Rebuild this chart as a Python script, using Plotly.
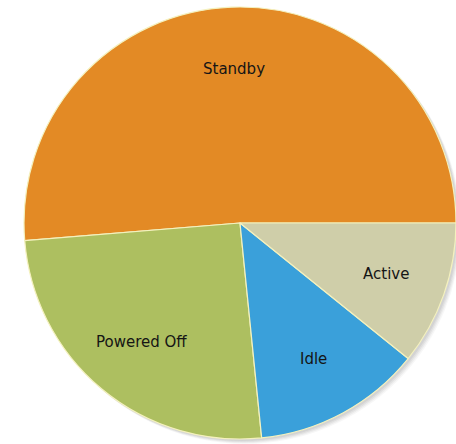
import math
import plotly.graph_objects as go

labels = ["Standby", "Powered Off", "Idle", "Active"]
values = [51.3, 25.3, 12.6, 10.8]
colors = ["#E38A25", "#ADBF60", "#3AA0DA", "#CFCEA9"]

W, H = 456, 444
cx, cy, r = 240, 223, 216
label_r = 0.715

total = sum(values)
# first slice begins at 3 o'clock and runs counterclockwise
rotation = 90 - values[0] / total * 360

fig = go.Figure()

# soft shadow behind the pie
shapes = []
for off, op in [(5, 0.06), (4, 0.08), (3, 0.10), (2, 0.12)]:
    shapes.append(dict(type="circle", xref="paper", yref="paper",
                       x0=(cx - r + off) / W, x1=(cx + r + off) / W,
                       y0=1 - (cy + r + off) / H, y1=1 - (cy - r + off) / H,
                       fillcolor="rgba(120,120,120,%s)" % op, line=dict(width=0), layer="below"))

fig.add_trace(go.Pie(
    labels=labels, values=values, sort=False, direction="counterclockwise", rotation=rotation,
    marker=dict(colors=colors, line=dict(color="#F4F1BE", width=1.2)),
    textinfo="none",
    domain=dict(x=[(cx - r) / W, (cx + r) / W], y=[1 - (cy + r) / H, 1 - (cy - r) / H]),
    showlegend=False, hoverinfo="label+percent",
))

# labels at the middle angle of each slice
annotations = []
start = 0.0
for lab, v in zip(labels, values):
    sweep = v / total * 360
    mid = math.radians(start + sweep / 2)
    px = cx + label_r * r * math.cos(mid)
    py = cy - label_r * r * math.sin(mid)
    annotations.append(dict(text=lab, x=px / W, y=1 - py / H, xref="paper", yref="paper",
                            showarrow=False, xanchor="center", yanchor="middle",
                            font=dict(family="DejaVu Sans", size=15, color="#151515")))
    start += sweep

fig.update_layout(width=W, height=H, margin=dict(l=0, r=0, t=0, b=0),
                  paper_bgcolor="white", plot_bgcolor="white",
                  shapes=shapes, annotations=annotations)
fig.write_html("out.html")
